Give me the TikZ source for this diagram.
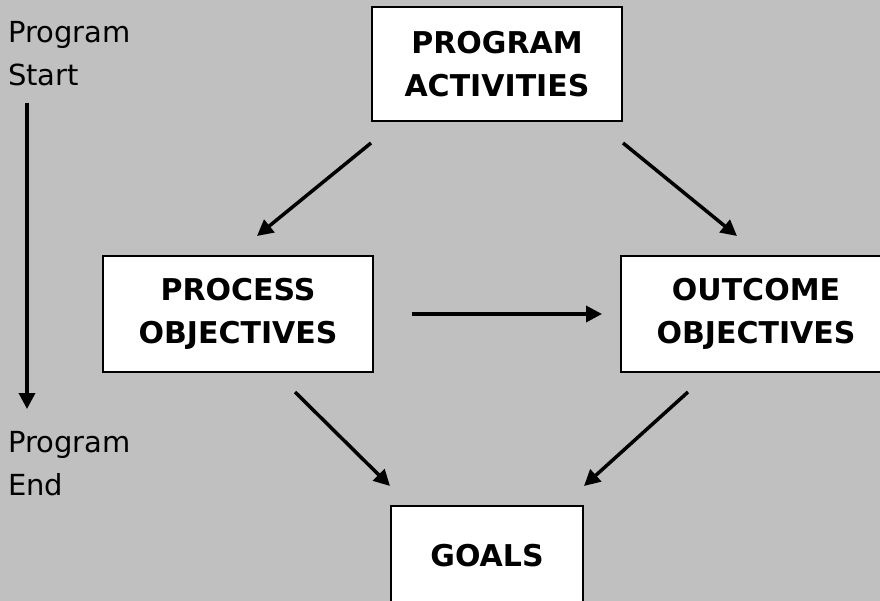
\documentclass[tikz,border=0pt]{standalone}
\usepackage{fontspec}
\setmainfont{DejaVu Sans}
\usetikzlibrary{arrows.meta}
\definecolor{panel}{RGB}{192,192,192}
\tikzset{
  box/.style={draw, fill=white, line width=2pt, inner sep=0pt, align=center,
    font=\fontsize{30}{43}\selectfont\bfseries},
  side/.style={inner sep=0pt, align=left, anchor=north west,
    font=\fontsize{29}{43}\selectfont},
  arr/.style={line width=3.5pt, -{Triangle[length=16pt,width=16pt]}},
}
\begin{document}
\begin{tikzpicture}[x=1pt, y=-1pt]
\useasboundingbox (0,0) rectangle (880,601);
\clip (0,0) rectangle (880,601);
\fill[panel] (0,0) rectangle (880,601);
% time line on the left
\node[side] (start) at (8,21) {Program\\Start};
\node[side] (end) at (8,431) {Program\\End};
\coordinate (t0) at (27,103);
\coordinate (t1) at (27,409);
\draw[arr] (t0)--(t1);
% boxes
\node[box, minimum width=250, minimum height=114] (act) at (497,64) {PROGRAM\\ACTIVITIES};
\node[box, minimum width=270, minimum height=116] (proc) at (238,314) {PROCESS\\OBJECTIVES};
\node[box, minimum width=270, minimum height=116] (out) at (756,314) {OUTCOME\\OBJECTIVES};
\node[box, minimum width=192, minimum height=100] (goals) at (487,556) {GOALS};
% arrows between them
\draw[arr] ([shift={(0,21)}]act.south west)--([shift={(19,-19)}]proc.north);
\draw[arr] ([shift={(0,21)}]act.south east)--([shift={(-19,-19)}]out.north);
\draw[arr] ([xshift=38]proc.east)--([xshift=-18]out.west);
\draw[arr] ([shift={(57,19)}]proc.south)--([shift={(0,-19)}]goals.north west);
\draw[arr] ([shift={(-68,19)}]out.south)--([shift={(0,-19)}]goals.north east);
\end{tikzpicture}
\end{document}
